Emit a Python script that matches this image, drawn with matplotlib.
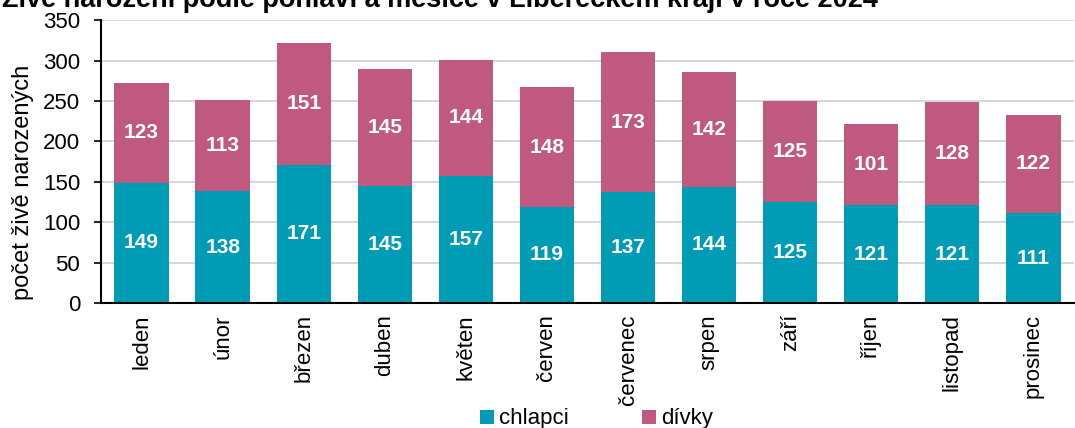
import numpy as np
import matplotlib.pyplot as plt

plt.rcParams['font.family'] = ['Liberation Sans', 'DejaVu Sans']

# data
mesice = ['leden', 'únor', 'březen', 'duben', 'květen', 'červen',
          'červenec', 'srpen', 'září', 'říjen', 'listopad', 'prosinec']
chlapci = [149, 138, 171, 145, 157, 119, 137, 144, 125, 121, 121, 111]
divky = [123, 113, 151, 145, 144, 148, 173, 142, 125, 101, 128, 122]

c_chl = '#009BB4'
c_div = '#C0597F'

fig = plt.figure(figsize=(10.75, 4.28), dpi=100)
ax = fig.add_axes([0.094, 0.292, 0.905, 0.661])

x = np.arange(len(mesice))
w = 0.67
b1 = ax.bar(x, chlapci, w, color=c_chl, label='chlapci', zorder=2)
b2 = ax.bar(x, divky, w, bottom=chlapci, color=c_div, label='dívky', zorder=2)

# popisky hodnot uprostred segmentu
for b, v in zip(b1, chlapci):
    ax.text(b.get_x() + b.get_width() / 2, b.get_y() + v / 2, str(v),
            ha='center', va='center', color='white', fontsize=15, fontweight='bold')
for b, v in zip(b2, divky):
    ax.text(b.get_x() + b.get_width() / 2, b.get_y() + v / 2, str(v),
            ha='center', va='center', color='white', fontsize=15, fontweight='bold')

ax.set_xlim(-0.5, len(mesice) - 0.5)
ax.set_ylim(0, 350)
ax.set_yticks(range(0, 351, 50))
ax.yaxis.grid(True, color='#D0D0D0', linewidth=1.2, zorder=0)
ax.set_axisbelow(True)

ax.set_xticks(x)
ax.set_xticklabels(mesice, rotation=90, fontsize=16)
ax.tick_params(axis='x', length=0, pad=8)
ax.tick_params(axis='y', labelsize=16, length=5, width=1.2, pad=10, direction='out')

for s in ['top', 'right']:
    ax.spines[s].set_visible(False)
ax.spines['left'].set_linewidth(1.5)
ax.spines['bottom'].set_linewidth(1.5)

ax.set_ylabel('počet živě narozených', fontsize=17)
ax.yaxis.set_label_coords(-0.069, 0.428)

fig.text(0.002, 1 - 7 / 428, 'Živě narození podle pohlaví a měsíce v Libereckém kraji v roce 2024',
         fontsize=19.5, fontweight='bold', va='baseline', ha='left')

fig.legend(handles=[b1, b2], labels=['chlapci', 'dívky'], loc='lower center',
           bbox_to_anchor=(0.555, -0.05), ncol=2, frameon=False, fontsize=16,
           handlelength=0.6, handleheight=0.6, handletextpad=0.25, columnspacing=3.3)

fig.savefig('out.png', dpi=100)
